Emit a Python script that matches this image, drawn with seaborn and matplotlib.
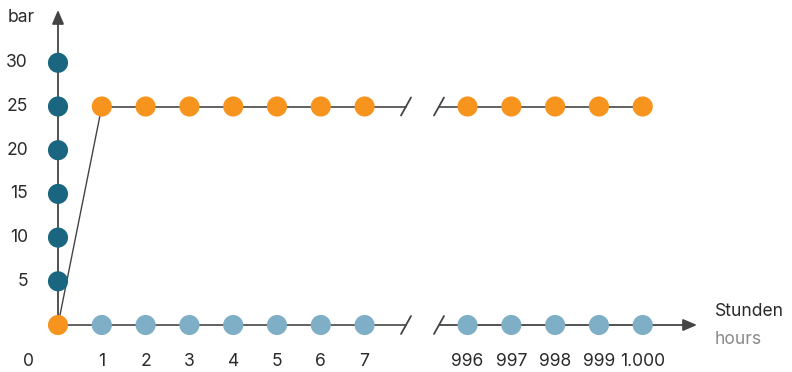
import matplotlib
matplotlib.use("Agg")
import matplotlib.pyplot as plt
import seaborn as sns
import pandas as pd

# ---- data ----
hours_early = [1, 2, 3, 4, 5, 6, 7]
hours_late = [996, 997, 998, 999, 1000]
hour_labels = ["1", "2", "3", "4", "5", "6", "7", "996", "997", "998", "999", "1.000"]
ramp_pressure = [5, 10, 15, 20, 25, 30]
test_pressure = 25
start_pressure = 0
y_ticks = [5, 10, 15, 20, 25, 30]

C_RAMP = "#1a6680"
C_TEST = "#f7941d"
C_BASE = "#7eafc7"
C_AX = "#555555"
C_TXT = "#2a2a2a"

sns.set_theme(style="white")
plt.rcParams["font.family"] = ["Inter", "DejaVu Sans"]

BREAK_OFFSET = 9.35  # axis position of hour 996


def pos(h):
    return h if h <= 7 else h - 996 + BREAK_OFFSET


hours_all = hours_early + hours_late
rows = []
for p in ramp_pressure:
    rows.append(dict(x=pos(0), y=p, series="ramp"))
rows.append(dict(x=pos(0), y=start_pressure, series="start"))
for h in hours_all:
    rows.append(dict(x=pos(h), y=test_pressure, series="test"))
    rows.append(dict(x=pos(h), y=start_pressure, series="base"))
df = pd.DataFrame(rows)

fig = plt.figure(figsize=(7.92, 3.72), dpi=100)
ax = fig.add_axes([0, 0, 1, 1])
ax.set_xlim(-58 / 43.8, (792 - 58) / 43.8)
ax.set_ylim(-47 / 8.74, 325 / 8.74)
ax.axis("off")

lw = 1.3
brk_l = (406 - 58) / 43.8
brk_r = (439 - 58) / 43.8
x_end = (697 - 58) / 43.8
y_top = (325 - 10) / 8.74

# y axis with arrow
ax.annotate("", xy=(0, y_top), xytext=(0, 0),
            arrowprops=dict(arrowstyle="-|>,head_length=0.7,head_width=0.3", color="#444444", lw=lw, shrinkA=0, shrinkB=0))
# baseline segments
ax.plot([0, brk_l], [0, 0], color=C_AX, lw=lw, zorder=1)
ax.annotate("", xy=(x_end, 0), xytext=(brk_r, 0),
            arrowprops=dict(arrowstyle="-|>,head_length=0.7,head_width=0.3", color="#444444", lw=lw, shrinkA=0, shrinkB=0))
# test pressure segments
ax.plot([pos(1), brk_l], [test_pressure] * 2, color=C_AX, lw=lw, zorder=1)
ax.plot([brk_r, pos(1000)], [test_pressure] * 2, color=C_AX, lw=lw, zorder=1)
# ramp line
ax.plot([0, pos(1)], [start_pressure, test_pressure], color="#444444", lw=1.0, zorder=1)
# break slashes
dx, dy = 5 / 43.8, 9 / 8.74
for yy in (0, test_pressure):
    for bx in (brk_l, brk_r):
        ax.plot([bx - dx, bx + dx], [yy - dy, yy + dy], color="#444444", lw=lw, zorder=1)

sns.scatterplot(data=df, x="x", y="y", hue="series",
                palette={"ramp": C_RAMP, "start": C_TEST, "test": C_TEST, "base": C_BASE},
                s=210, linewidth=0, legend=False, ax=ax, zorder=3)

fs = 12.6
for v in y_ticks:
    ax.text(-30 / 43.8, v, str(v), ha="right", va="center", fontsize=fs, color=C_TXT)
lab_y = -(362 - 325) / 8.74
ax.text(-30 / 43.8, lab_y, "0", ha="center", va="center", fontsize=fs, color=C_TXT)
for h, lab in zip(hours_all, hour_labels):
    ax.text(pos(h), lab_y, lab, ha="center", va="center", fontsize=fs, color=C_TXT)
ax.text(-50 / 43.8, (325 - 18) / 8.74, "bar", ha="left", va="center", fontsize=fs, color=C_TXT)
ax.text((715 - 58) / 43.8, (325 - 311) / 8.74, "Stunden", ha="left", va="center", fontsize=fs, color=C_TXT)
ax.text((715 - 58) / 43.8, (325 - 340) / 8.74, "hours", ha="left", va="center", fontsize=fs, color="#8a8a8a")

fig.savefig("out.png", dpi=100)
